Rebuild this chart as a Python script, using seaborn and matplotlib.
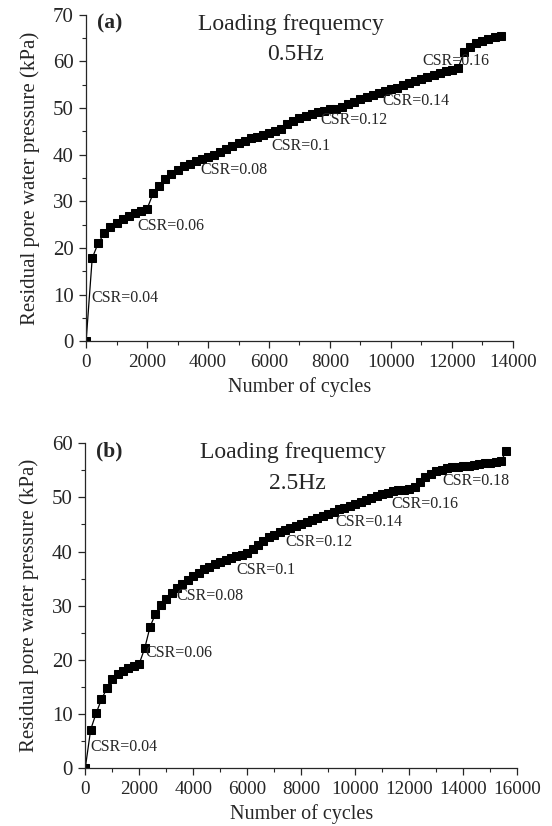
"""Residual pore water pressure vs number of cycles at two loading frequencies."""
import numpy as np
import pandas as pd
import matplotlib
matplotlib.use("Agg")
import matplotlib.pyplot as plt
from matplotlib.ticker import MultipleLocator
import seaborn as sns

# ---- data (points every 200 cycles) ----
pwp_05hz = [0.0, 17.8, 21.1, 23.1, 24.4, 25.3, 26.1, 26.8, 27.4, 27.9,
            28.4, 31.7, 33.3, 34.8, 35.9, 36.8, 37.5, 38.1, 38.6, 39.1,
            39.5, 40.0, 40.6, 41.3, 41.9, 42.5, 43.0, 43.5, 43.9, 44.3,
            44.6, 45.0, 45.5, 46.5, 47.2, 47.8, 48.3, 48.7, 49.1, 49.4,
            49.7, 49.9, 50.2, 50.8, 51.4, 51.9, 52.4, 52.8, 53.2, 53.6,
            54.0, 54.4, 54.9, 55.4, 55.9, 56.3, 56.7, 57.1, 57.5, 57.9,
            58.2, 58.5, 62.0, 63.2, 64.0, 64.5, 64.9, 65.2, 65.4]
cycles_05hz = [200 * i for i in range(len(pwp_05hz))]

pwp_25hz = [0.0, 7.1, 10.1, 12.7, 14.7, 16.4, 17.3, 17.9, 18.4, 18.9,
            19.3, 22.1, 26.1, 28.5, 30.1, 31.3, 32.3, 33.2, 34.0, 34.8,
            35.5, 36.1, 36.7, 37.2, 37.7, 38.1, 38.5, 38.8, 39.1, 39.4,
            39.8, 40.5, 41.3, 42.0, 42.6, 43.1, 43.6, 44.0, 44.4, 44.7,
            45.0, 45.4, 45.8, 46.2, 46.6, 47.0, 47.4, 47.8, 48.1, 48.4,
            48.8, 49.1, 49.5, 49.9, 50.3, 50.6, 50.9, 51.1, 51.3, 51.4,
            51.5, 51.9, 52.8, 53.7, 54.3, 54.8, 55.1, 55.4, 55.6, 55.7,
            55.8, 55.9, 56.0, 56.1, 56.3, 56.4, 56.6, 56.8, 58.5]
cycles_25hz = [200 * i for i in range(len(pwp_25hz))]

# CSR annotations -- left edge / vertical centre of text, in data units
csr_labels_05 = ["CSR=0.04", "CSR=0.06", "CSR=0.08", "CSR=0.1",
                 "CSR=0.12", "CSR=0.14", "CSR=0.16"]
csr_x_05 = [160, 1670, 3740, 6090, 7700, 9730, 11040]
csr_y_05 = [9.2, 24.8, 36.8, 41.8, 47.5, 51.6, 60.0]

csr_labels_25 = ["CSR=0.04", "CSR=0.06", "CSR=0.08", "CSR=0.1",
                 "CSR=0.12", "CSR=0.14", "CSR=0.16", "CSR=0.18"]
csr_x_25 = [200, 2210, 3390, 5610, 7400, 9250, 11320, 13220]
csr_y_25 = [3.9, 21.2, 31.7, 36.6, 41.7, 45.4, 48.7, 53.1]

sns.set_style("ticks")
plt.rcParams["font.family"] = ["Liberation Serif", "DejaVu Serif"]

fig = plt.figure(figsize=(5.52, 8.26), dpi=100)
ax_a = fig.add_axes([0.156, 0.587, 0.773, 0.395])
ax_b = fig.add_axes([0.1545, 0.0702, 0.7825, 0.3931])


def _panel(ax, cycles, pwp, labels, lx, ly, tag, freq, xmax, ymax):
    df = pd.DataFrame({"cycles": cycles, "pwp": pwp})
    sns.lineplot(data=df, x="cycles", y="pwp", ax=ax, color="black",
                 linewidth=0.9, marker="s", markersize=5.2,
                 markeredgecolor="black", markerfacecolor="black")
    ax.set_xlim(0, xmax)
    ax.set_ylim(0, ymax)
    ax.xaxis.set_major_locator(MultipleLocator(2000))
    ax.xaxis.set_minor_locator(MultipleLocator(1000))
    ax.yaxis.set_major_locator(MultipleLocator(10))
    ax.yaxis.set_minor_locator(MultipleLocator(5))
    ax.tick_params(axis="both", which="major", direction="out", length=5,
                   width=0.9, pad=4)
    ax.tick_params(axis="x", which="major", labelsize=13.8)
    ax.tick_params(axis="y", which="major", labelsize=15)
    ax.tick_params(axis="both", which="minor", direction="out", length=3,
                   width=0.8)
    sns.despine(ax=ax)
    for sp in ["left", "bottom"]:
        ax.spines[sp].set_linewidth(0.9)
    ax.set_xlabel("Number of cycles", fontsize=14.5, labelpad=5)
    ax.set_ylabel("Residual pore water pressure (kPa)", fontsize=15,
                  labelpad=9)
    for txt, x, y in zip(labels, lx, ly):
        ax.text(x, y, txt, fontsize=11.5, ha="left", va="center")
    ax.text(0.025, 0.975, tag, transform=ax.transAxes, fontsize=15.5,
            fontweight="bold", ha="left", va="center")
    ax.text(0.48, 0.972, "Loading frequemcy", transform=ax.transAxes,
            fontsize=17, ha="center", va="center")
    ax.text(0.49, 0.877, freq, transform=ax.transAxes, fontsize=17,
            ha="center", va="center")


_panel(ax_a, cycles_05hz, pwp_05hz, csr_labels_05, csr_x_05, csr_y_05,
       "(a)", "0.5Hz", 14000, 70)
_panel(ax_b, cycles_25hz, pwp_25hz, csr_labels_25, csr_x_25, csr_y_25,
       "(b)", "2.5Hz", 16000, 60)

fig.savefig("out.png", dpi=100)
